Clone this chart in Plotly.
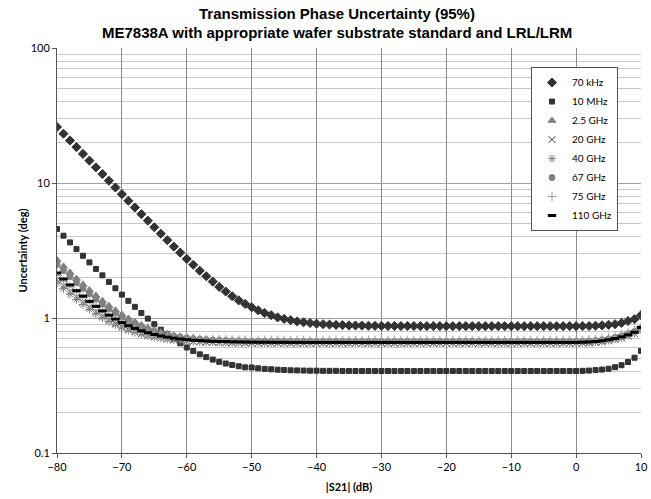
import plotly.graph_objects as go

# |S21| sweep (dB), one point per dB
s21_db = list(range(-80, 11))

khz70 = [
    26.0, 23.19, 20.67, 18.43, 16.43, 14.65, 13.06, 11.64, 10.39, 9.26,
    8.27, 7.38, 6.59, 5.88, 5.26, 4.70, 4.21, 3.77, 3.38, 3.05,
    2.74, 2.48, 2.24, 2.04, 1.86, 1.70, 1.57, 1.45, 1.35, 1.27,
    1.20, 1.14, 1.09, 1.05, 1.01, 0.985, 0.963, 0.944, 0.930, 0.918,
    0.908, 0.900, 0.894, 0.889, 0.885, 0.882, 0.880, 0.878, 0.876, 0.875,
    0.874, 0.873, 0.873, 0.872, 0.872, 0.872, 0.871, 0.871, 0.871, 0.871,
    0.870, 0.870, 0.870, 0.870, 0.870, 0.870, 0.870, 0.870, 0.870, 0.870,
    0.870, 0.870, 0.870, 0.870, 0.870, 0.870, 0.870, 0.870, 0.870, 0.870,
    0.870, 0.870, 0.872, 0.876, 0.882, 0.890, 0.900, 0.920, 0.950, 0.980, 1.05,
]
mhz10 = [
    4.56, 4.07, 3.63, 3.24, 2.89, 2.58, 2.31, 2.07, 1.85, 1.66,
    1.49, 1.34, 1.21, 1.09, 0.99, 0.90, 0.82, 0.76, 0.70, 0.65,
    0.605, 0.569, 0.538, 0.513, 0.492, 0.474, 0.460, 0.449, 0.439, 0.431,
    0.430, 0.424, 0.420, 0.417, 0.414, 0.412, 0.410, 0.409, 0.408, 0.407,
    0.407, 0.406, 0.406, 0.406, 0.405, 0.405, 0.405, 0.405, 0.405, 0.405,
    0.405, 0.405, 0.405, 0.405, 0.405, 0.405, 0.405, 0.405, 0.405, 0.405,
    0.405, 0.405, 0.405, 0.405, 0.405, 0.405, 0.405, 0.405, 0.405, 0.405,
    0.405, 0.405, 0.405, 0.405, 0.405, 0.405, 0.405, 0.405, 0.405, 0.405,
    0.405, 0.406, 0.408, 0.411, 0.415, 0.421, 0.432, 0.447, 0.472, 0.508, 0.570,
]
ghz2_5 = [
    2.685, 2.412, 2.171, 1.959, 1.772, 1.608, 1.465, 1.341, 1.233, 1.140,
    1.061, 0.993, 0.936, 0.888, 0.847, 0.814, 0.787, 0.764, 0.746, 0.731,
    0.719, 0.709, 0.701, 0.695, 0.690, 0.686, 0.683, 0.680, 0.678, 0.676,
    0.675, 0.674, 0.673, 0.672, 0.671, 0.671, 0.671, 0.670, 0.670, 0.670,
    0.670, 0.670, 0.670, 0.670, 0.670, 0.670, 0.670, 0.670, 0.670, 0.670,
    0.670, 0.670, 0.670, 0.670, 0.670, 0.670, 0.670, 0.670, 0.670, 0.670,
    0.670, 0.670, 0.670, 0.670, 0.670, 0.670, 0.670, 0.670, 0.670, 0.670,
    0.670, 0.670, 0.670, 0.670, 0.670, 0.670, 0.670, 0.670, 0.670, 0.670,
    0.670, 0.672, 0.675, 0.680, 0.688, 0.700, 0.715, 0.735, 0.760, 0.790, 0.830,
]
ghz20 = [
    1.914, 1.731, 1.571, 1.430, 1.309, 1.203, 1.112, 1.034, 0.968, 0.911,
    0.864, 0.824, 0.792, 0.765, 0.743, 0.724, 0.710, 0.698, 0.688, 0.681,
    0.674, 0.669, 0.666, 0.662, 0.660, 0.658, 0.656, 0.655, 0.654, 0.653,
    0.652, 0.652, 0.651, 0.651, 0.651, 0.650, 0.650, 0.650, 0.650, 0.650,
    0.650, 0.650, 0.650, 0.650, 0.650, 0.650, 0.650, 0.650, 0.650, 0.650,
    0.650, 0.650, 0.650, 0.650, 0.650, 0.650, 0.650, 0.650, 0.650, 0.650,
    0.650, 0.650, 0.650, 0.650, 0.650, 0.650, 0.650, 0.650, 0.650, 0.650,
    0.650, 0.650, 0.650, 0.650, 0.650, 0.650, 0.650, 0.650, 0.650, 0.650,
    0.650, 0.652, 0.655, 0.660, 0.667, 0.678, 0.692, 0.710, 0.735, 0.765, 0.810,
]
ghz40 = [
    1.822, 1.651, 1.501, 1.370, 1.257, 1.159, 1.075, 1.003, 0.942, 0.890,
    0.847, 0.811, 0.782, 0.758, 0.738, 0.721, 0.708, 0.698, 0.689, 0.682,
    0.677, 0.672, 0.669, 0.666, 0.664, 0.662, 0.660, 0.659, 0.658, 0.658,
    0.657, 0.657, 0.656, 0.656, 0.656, 0.655, 0.655, 0.655, 0.655, 0.655,
    0.655, 0.655, 0.655, 0.655, 0.655, 0.655, 0.655, 0.655, 0.655, 0.655,
    0.655, 0.655, 0.655, 0.655, 0.655, 0.655, 0.655, 0.655, 0.655, 0.655,
    0.655, 0.655, 0.655, 0.655, 0.655, 0.655, 0.655, 0.655, 0.655, 0.655,
    0.655, 0.655, 0.655, 0.655, 0.655, 0.655, 0.655, 0.655, 0.655, 0.655,
    0.655, 0.657, 0.660, 0.665, 0.672, 0.683, 0.697, 0.715, 0.740, 0.770, 0.815,
]
ghz67 = [
    2.492, 2.241, 2.021, 1.826, 1.656, 1.507, 1.377, 1.264, 1.167, 1.084,
    1.012, 0.952, 0.901, 0.859, 0.824, 0.794, 0.771, 0.751, 0.735, 0.722,
    0.712, 0.703, 0.697, 0.691, 0.687, 0.683, 0.681, 0.678, 0.677, 0.675,
    0.674, 0.673, 0.673, 0.672, 0.672, 0.671, 0.671, 0.670, 0.670, 0.670,
    0.670, 0.670, 0.670, 0.670, 0.670, 0.670, 0.670, 0.670, 0.670, 0.670,
    0.670, 0.670, 0.670, 0.670, 0.670, 0.670, 0.670, 0.670, 0.670, 0.670,
    0.670, 0.670, 0.670, 0.670, 0.670, 0.670, 0.670, 0.670, 0.670, 0.670,
    0.670, 0.670, 0.670, 0.670, 0.670, 0.670, 0.670, 0.670, 0.670, 0.670,
    0.670, 0.672, 0.676, 0.682, 0.690, 0.702, 0.718, 0.738, 0.763, 0.795, 0.840,
]
ghz75 = [
    2.065, 1.866, 1.692, 1.539, 1.406, 1.290, 1.191, 1.105, 1.032, 0.970,
    0.918, 0.874, 0.838, 0.808, 0.783, 0.763, 0.747, 0.734, 0.723, 0.714,
    0.707, 0.702, 0.697, 0.694, 0.691, 0.689, 0.687, 0.686, 0.684, 0.683,
    0.683, 0.682, 0.682, 0.681, 0.681, 0.681, 0.680, 0.680, 0.680, 0.680,
    0.680, 0.680, 0.680, 0.680, 0.680, 0.680, 0.680, 0.680, 0.680, 0.680,
    0.680, 0.680, 0.680, 0.680, 0.680, 0.680, 0.680, 0.680, 0.680, 0.680,
    0.680, 0.680, 0.680, 0.680, 0.680, 0.680, 0.680, 0.680, 0.680, 0.680,
    0.680, 0.680, 0.680, 0.680, 0.680, 0.680, 0.680, 0.680, 0.680, 0.680,
    0.680, 0.682, 0.686, 0.692, 0.700, 0.712, 0.728, 0.748, 0.773, 0.805, 0.860,
]
ghz110 = [
    2.154, 1.943, 1.757, 1.594, 1.452, 1.328, 1.221, 1.129, 1.050, 0.982,
    0.925, 0.877, 0.837, 0.804, 0.777, 0.754, 0.736, 0.721, 0.709, 0.699,
    0.691, 0.685, 0.680, 0.676, 0.672, 0.670, 0.668, 0.666, 0.665, 0.664,
    0.663, 0.662, 0.662, 0.661, 0.661, 0.661, 0.660, 0.660, 0.660, 0.660,
    0.660, 0.660, 0.660, 0.660, 0.660, 0.660, 0.660, 0.660, 0.660, 0.660,
    0.660, 0.660, 0.660, 0.660, 0.660, 0.660, 0.660, 0.660, 0.660, 0.660,
    0.660, 0.660, 0.660, 0.660, 0.660, 0.660, 0.660, 0.660, 0.660, 0.660,
    0.660, 0.660, 0.660, 0.660, 0.660, 0.660, 0.660, 0.660, 0.660, 0.660,
    0.660, 0.662, 0.665, 0.670, 0.678, 0.690, 0.705, 0.725, 0.750, 0.785, 0.850,
]

# name, values, symbol, colour, size
series = [
    ("70 kHz", khz70, "diamond", "#333333", 7),
    ("10 MHz", mhz10, "square", "#333333", 5),
    ("2.5 GHz", ghz2_5, "triangle-up", "#7f7f7f", 7),
    ("20 GHz", ghz20, "x-thin-open", "#404040", 7),
    ("40 GHz", ghz40, "asterisk-open", "#808080", 7),
    ("67 GHz", ghz67, "circle", "#808080", 6),
    ("75 GHz", ghz75, "cross-thin-open", "#a0a0a0", 7),
    ("110 GHz", ghz110, "line-ew-open", "#000000", 6),
]

fig = go.Figure()
for name, vals, sym, col, size in series:
    fig.add_trace(go.Scatter(
        x=s21_db, y=vals, name=name, mode="markers",
        marker=dict(symbol=sym, color=col, size=size,
                    line=dict(color=col, width=3 if sym == "line-ew-open" else 1)),
    ))

fig.update_layout(
    width=651, height=499,
    margin=dict(l=57, r=10, t=48, b=46, autoexpand=False),
    paper_bgcolor="white", plot_bgcolor="white",
    font=dict(family="Lato, Liberation Sans, sans-serif", size=11, color="black"),
    showlegend=True,
    legend=dict(
        x=0.9606, y=0.953, xanchor="right", yanchor="top",
        bgcolor="white", bordercolor="#555555", borderwidth=1,
        font=dict(size=10), itemwidth=30, tracegroupgap=4,
    ),
)

# 제목 (두 줄, 굵게)
title_lines = ["Transmission Phase Uncertainty (95%)",
               "ME7838A with appropriate wafer substrate standard and LRL/LRM"]
for i, line in enumerate(title_lines):
    fig.add_annotation(
        text="<b>" + line + "</b>",
        xref="paper", yref="paper", x=0.4786, y=1.0, yshift=35 - 19 * i,
        xanchor="center", yanchor="middle", showarrow=False,
        font=dict(family="Liberation Sans, Arial", size=15, color="black"),
    )

fig.update_xaxes(
    range=[-80, 10], dtick=10, tick0=-80, automargin=False,
    showgrid=True, gridcolor="#8c8c8c", gridwidth=1,
    showline=True, linecolor="#555555", zeroline=False,
    ticks="outside", ticklen=4, tickcolor="#555555",
    title=dict(text="<b>|S21| (dB)</b>", font=dict(size=11), standoff=11),
)
fig.update_yaxes(
    type="log", range=[-1, 2], automargin=False,
    tickvals=[0.1, 1, 10, 100], ticktext=["0.1", "1", "10", "100"],
    showgrid=True, gridcolor="#a0a0a0", gridwidth=1,
    minor=dict(showgrid=True, gridcolor="#c8c8c8", dtick="D1"),
    showline=True, linecolor="#555555", zeroline=False,
    ticks="outside", ticklen=4, tickcolor="#555555",
    title=dict(text="<b>Uncertainty (deg)</b>", font=dict(size=11), standoff=0),
)

# 브라우저 기본 여백 제거, 툴바 숨김
fig.write_html("out.html", config={"displayModeBar": False},
               post_script="document.body.style.margin='0px';")
